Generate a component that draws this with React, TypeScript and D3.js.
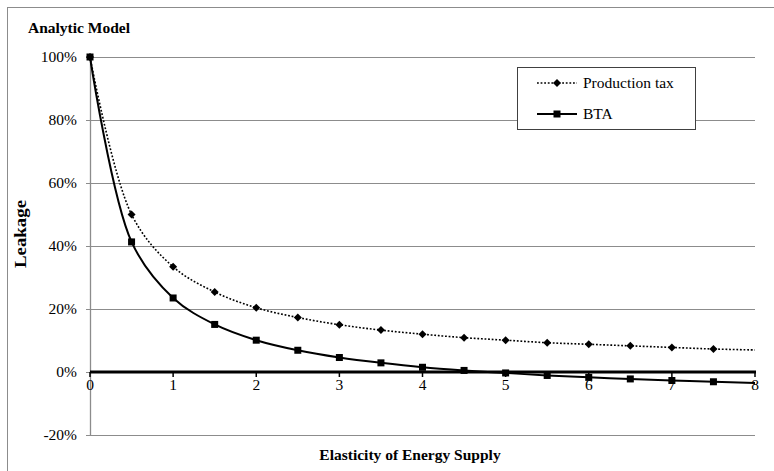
import React from "react";
import * as d3 from "d3";

const elasticity = [0, 0.5, 1, 1.5, 2, 2.5, 3, 3.5, 4, 4.5, 5, 5.5, 6, 6.5, 7, 7.5, 8];
const productionTax = [100, 50, 33.4, 25.4, 20.4, 17.3, 15.0, 13.3, 12.0, 10.9, 10.1, 9.3, 8.8, 8.3, 7.8, 7.3, 7.0];
const bta = [100, 41.3, 23.5, 15.1, 10.1, 6.9, 4.6, 2.9, 1.5, 0.5, -0.3, -1.1, -1.7, -2.2, -2.7, -3.1, -3.5];
const markerCount = 16; // markers drawn at 0 .. 7.5
const xTicks = [0, 1, 2, 3, 4, 5, 6, 7, 8];
const yTicks = [-20, 0, 20, 40, 60, 80, 100];
const legendLabels = ["Production tax", "BTA"];

const W = 774;
const H = 471;
const FONT = "Liberation Serif, Times New Roman, DejaVu Serif, serif";

export default function App() {
  const x = d3.scaleLinear().domain([0, 8]).range([90, 755]);
  const y = d3.scaleLinear().domain([-20, 100]).range([435, 57]);

  const line = d3
    .line<number>()
    .x((_, i) => x(elasticity[i]))
    .y((d) => y(d))
    .curve(d3.curveCatmullRom.alpha(0.5));

  const prodPts = productionTax.slice(0, markerCount);
  const btaPts = bta.slice(0, markerCount);

  const diamond = "M0,-4L4,0L0,4L-4,0Z";
  const ts = { fontFamily: FONT };

  return (
    <svg
      width={W}
      height={H}
      style={{ position: "absolute", left: 0, top: 0, background: "#fff", fontFamily: FONT }}
    >
      <rect x={0} y={0} width={W} height={H} fill="#fff" />
      {/* outer chart border */}
      <rect x={7.5} y={7.5} width={W + 20} height={H + 20} fill="none" stroke="#8c8c8c" strokeWidth={1} />

      <text x={28} y={33} fontSize={15.5} fontWeight="bold" fill="#000" style={ts}>
        Analytic Model
      </text>

      {/* gridlines */}
      {yTicks.map((t) => (
        <line
          key={"g" + t}
          x1={x(0)}
          x2={x(8)}
          y1={Math.round(y(t)) + 0.5}
          y2={Math.round(y(t)) + 0.5}
          stroke="#8c8c8c"
          strokeWidth={1}
        />
      ))}
      {/* y axis */}
      <line x1={x(0) + 0.5} x2={x(0) + 0.5} y1={y(100)} y2={y(-20) + 1} stroke="#8c8c8c" strokeWidth={1.3} />
      {yTicks.map((t) => (
        <g key={"yt" + t}>
          <line
            x1={x(0) - 4}
            x2={x(0)}
            y1={Math.round(y(t)) + 0.5}
            y2={Math.round(y(t)) + 0.5}
            stroke="#8c8c8c"
            strokeWidth={1}
          />
          <text x={77} y={y(t)} dy="0.35em" textAnchor="end" fontSize={15.5} fill="#000" style={ts}>
            {t}%
          </text>
        </g>
      ))}

      {/* x axis at 0% */}
      <line x1={x(0)} x2={x(8) + 1} y1={y(0)} y2={y(0)} stroke="#000" strokeWidth={3.2} />
      {xTicks.map((t) => (
        <g key={"xt" + t}>
          <line x1={x(t)} x2={x(t)} y1={y(0)} y2={y(0) + 5} stroke="#000" strokeWidth={1.5} />
          <text x={x(t)} y={y(0) + 18} textAnchor="middle" fontSize={15.5} fill="#000" style={ts}>
            {t}
          </text>
        </g>
      ))}

      {/* series */}
      <path d={line(productionTax)!} fill="none" stroke="#000" strokeWidth={1.6} strokeDasharray="1.8,1.8" />
      <path d={line(bta)!} fill="none" stroke="#000" strokeWidth={2} />
      {prodPts.map((v, i) => (
        <path key={"pm" + i} d={diamond} transform={`translate(${x(elasticity[i])},${y(v)})`} fill="#000" />
      ))}
      {btaPts.map((v, i) => (
        <rect key={"bm" + i} x={x(elasticity[i]) - 3.5} y={y(v) - 3.5} width={7} height={7} fill="#000" />
      ))}

      {/* legend */}
      <rect x={517.5} y={67.5} width={178} height={62} fill="#fff" stroke="#404040" strokeWidth={1} />
      <line x1={537} x2={577} y1={83} y2={83} stroke="#000" strokeWidth={1.6} strokeDasharray="1.8,1.8" />
      <path d={diamond} transform="translate(557,83)" fill="#000" />
      <text x={583} y={83} dy="0.35em" fontSize={15.5} fill="#000" style={ts}>
        {legendLabels[0]}
      </text>
      <line x1={537} x2={577} y1={114} y2={114} stroke="#000" strokeWidth={2} />
      <rect x={553.5} y={110.5} width={7} height={7} fill="#000" />
      <text x={583} y={114} dy="0.35em" fontSize={15.5} fill="#000" style={ts}>
        {legendLabels[1]}
      </text>

      {/* axis titles */}
      <text x={410} y={460} textAnchor="middle" fontSize={15.5} fontWeight="bold" fill="#000" style={ts}>
        Elasticity of Energy Supply
      </text>
      <text
        transform="translate(26,234) rotate(-90)"
        textAnchor="middle"
        fontSize={16}
        fontWeight="bold"
        fill="#000"
        textLength={68}
        lengthAdjust="spacingAndGlyphs"
        style={ts}
      >
        Leakage
      </text>
    </svg>
  );
}
